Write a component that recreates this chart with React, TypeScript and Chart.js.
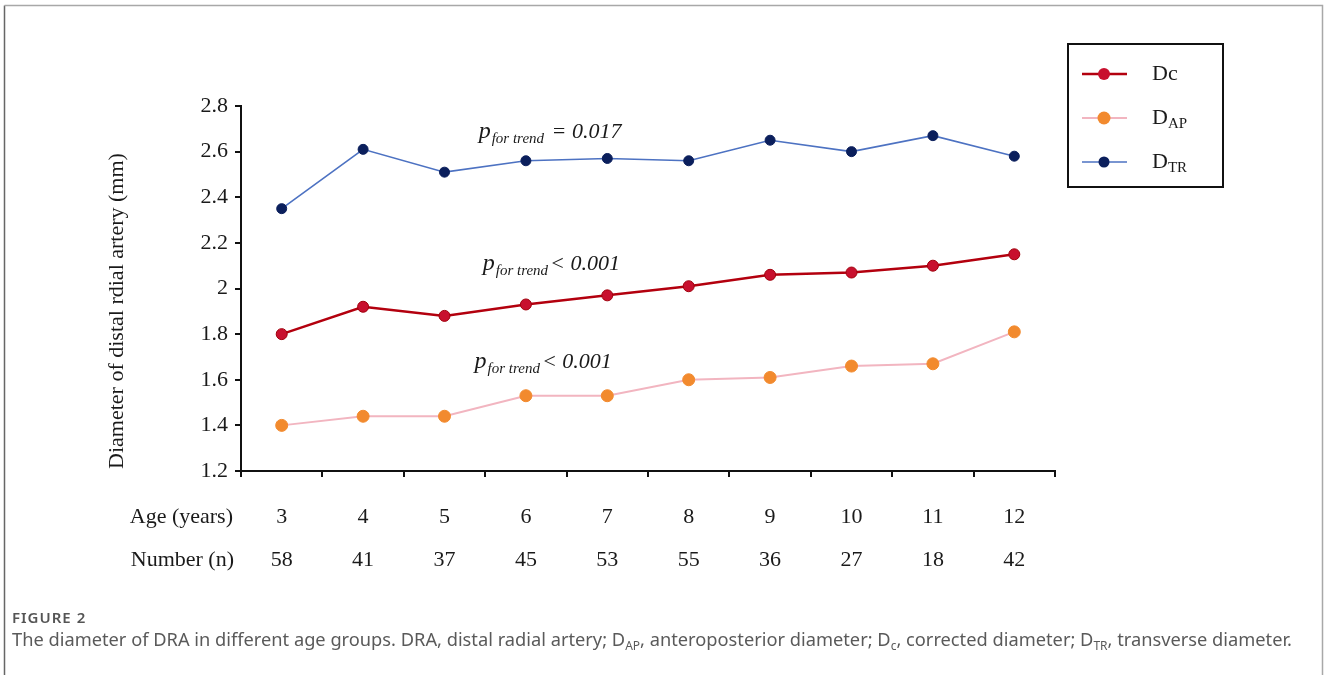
import React, { useEffect, useRef } from 'react';
import { Chart, registerables } from 'chart.js';

Chart.register(...registerables);

const W = 1328;
const H = 675;

// Age groups and sample sizes
const ages = ['3', '4', '5', '6', '7', '8', '9', '10', '11', '12'];
const counts = ['58', '41', '37', '45', '53', '55', '36', '27', '18', '42'];

// Mean diameters (mm)
const dcValues = [1.80, 1.92, 1.88, 1.93, 1.97, 2.01, 2.06, 2.07, 2.10, 2.15];
const dapValues = [1.40, 1.44, 1.44, 1.53, 1.53, 1.60, 1.61, 1.66, 1.67, 1.81];
const dtrValues = [2.35, 2.61, 2.51, 2.56, 2.57, 2.56, 2.65, 2.60, 2.67, 2.58];

// Y axis range
const yMin = 1.2;
const yMax = 2.8;
const yStep = 0.2;

// Trend test notes: text, anchored at a category index and a y value (baseline)
const trendNotes = [
  { rel: ' = 0.017', atIndex: 2.42, atValue: 2.66 },
  { rel: '< 0.001', atIndex: 2.47, atValue: 2.081 },
  { rel: '< 0.001', atIndex: 2.37, atValue: 1.651 },
];

// Legend entries: main letter + subscript
const legendEntries = [
  { main: 'Dc', sub: '' },
  { main: 'D', sub: 'AP' },
  { main: 'D', sub: 'TR' },
];

const SERIF = '"Liberation Serif", "Times New Roman", serif';
const SANS = '"Noto Sans", "Open Sans", sans-serif';
const INK = '#1a1a1a';

const series = [
  { label: 'Dc', data: dcValues, line: '#b3000e', point: '#c8102e', pointEdge: '#a0000c', width: 2.5, radius: 6 },
  { label: 'DAP', data: dapValues, line: '#f2b5c0', point: '#f28a2e', pointEdge: '#f28a2e', width: 2, radius: 6.5 },
  { label: 'DTR', data: dtrValues, line: '#4d72c2', point: '#0b1f5c', pointEdge: '#0b1f5c', width: 1.6, radius: 5.5 },
];

const captionRuns = [
  { t: 'The diameter of DRA in different age groups. DRA, distal radial artery; D', sub: false },
  { t: 'AP', sub: true },
  { t: ', anteroposterior diameter; D', sub: false },
  { t: 'c', sub: true },
  { t: ', corrected diameter; D', sub: false },
  { t: 'TR', sub: true },
  { t: ', transverse diameter.', sub: false },
];

const overlay = {
  id: 'overlay',
  afterDraw(chart: any) {
    const ctx: CanvasRenderingContext2D = chart.ctx;
    const xs = chart.scales.x;
    const ys = chart.scales.y;
    ctx.save();

    // figure frame
    ctx.lineWidth = 1.5;
    ctx.strokeStyle = '#666';
    ctx.beginPath();
    ctx.moveTo(4.5, H);
    ctx.lineTo(4.5, 5.5);
    ctx.stroke();
    ctx.strokeStyle = '#a8a8a8';
    ctx.beginPath();
    ctx.moveTo(4.5, 5.5);
    ctx.lineTo(1322.5, 5.5);
    ctx.lineTo(1322.5, H);
    ctx.stroke();

    // y axis title
    ctx.save();
    ctx.translate(117, 311);
    ctx.rotate(-Math.PI / 2);
    ctx.fillStyle = INK;
    ctx.font = `22px ${SERIF}`;
    ctx.textAlign = 'center';
    ctx.textBaseline = 'middle';
    ctx.fillText('Diameter of distal rdial artery (mm)', 0, 0);
    ctx.restore();

    // row headers for the category table
    ctx.fillStyle = INK;
    ctx.font = `22px ${SERIF}`;
    ctx.textAlign = 'right';
    ctx.textBaseline = 'middle';
    ctx.fillText('Age (years)', 233, 517);
    ctx.fillText('Number (n)', 234, 560);

    // trend notes
    ctx.textAlign = 'left';
    ctx.textBaseline = 'alphabetic';
    for (const note of trendNotes) {
      let px = xs.getPixelForValue(note.atIndex);
      const py = ys.getPixelForValue(note.atValue);
      ctx.font = `italic 24px ${SERIF}`;
      ctx.fillText('p', px, py);
      px += ctx.measureText('p').width + 1;
      ctx.font = `italic 15px ${SERIF}`;
      ctx.fillText('for trend', px, py + 5);
      px += ctx.measureText('for trend').width + 2;
      ctx.font = `italic 22px ${SERIF}`;
      ctx.fillText(note.rel, px, py);
    }

    // legend
    ctx.lineWidth = 2;
    ctx.strokeStyle = '#111';
    ctx.strokeRect(1068, 44, 155, 143);
    const rowsY = [74, 118, 162];
    legendEntries.forEach((entry, i) => {
      const s = series[i];
      const ly = rowsY[i];
      ctx.strokeStyle = s.line;
      ctx.lineWidth = s.width;
      ctx.beginPath();
      ctx.moveTo(1082, ly);
      ctx.lineTo(1127, ly);
      ctx.stroke();
      ctx.fillStyle = s.point;
      ctx.beginPath();
      ctx.arc(1104, ly, s.radius, 0, Math.PI * 2);
      ctx.fill();
      ctx.fillStyle = INK;
      ctx.font = `22px ${SERIF}`;
      ctx.textAlign = 'left';
      ctx.textBaseline = 'alphabetic';
      ctx.fillText(entry.main, 1152, ly + 6);
      if (entry.sub) {
        const mw = ctx.measureText(entry.main).width;
        ctx.font = `15px ${SERIF}`;
        ctx.fillText(entry.sub, 1152 + mw, ly + 10);
      }
    });

    // caption
    ctx.textAlign = 'left';
    ctx.textBaseline = 'alphabetic';
    ctx.fillStyle = '#555';
    ctx.font = `600 15px ${SANS}`;
    (ctx as any).letterSpacing = '1px';
    ctx.fillText('FIGURE 2', 12, 623);
    (ctx as any).letterSpacing = '0px';

    const mainSize = 18.25;
    const subSize = 12;
    let cx = 12;
    ctx.fillStyle = '#5a5a5a';
    for (const run of captionRuns) {
      ctx.font = `${run.sub ? subSize : mainSize}px ${SANS}`;
      ctx.fillText(run.t, cx, run.sub ? 650 : 646);
      cx += ctx.measureText(run.t).width;
    }

    ctx.restore();
  },
};

export default function App() {
  const ref = useRef<HTMLCanvasElement>(null);

  useEffect(() => {
    const canvas = ref.current;
    if (!canvas) return;
    Chart.defaults.color = INK;
    const chart = new Chart(canvas, {
      type: 'line',
      data: {
        labels: ages,
        datasets: series.map((s) => ({
          label: s.label,
          data: s.data,
          borderColor: s.line,
          borderWidth: s.width,
          backgroundColor: s.point,
          pointBackgroundColor: s.point,
          pointBorderColor: s.pointEdge,
          pointBorderWidth: 1,
          pointRadius: s.radius - 0.5,
          pointStyle: 'circle',
          tension: 0,
          fill: false,
        })),
      },
      options: {
        responsive: false,
        animation: false,
        devicePixelRatio: 1,
        layout: { padding: { top: 106, right: 273, bottom: 0, left: 0 } },
        plugins: {
          legend: { display: false },
          tooltip: { enabled: false },
          title: { display: false },
        },
        scales: {
          x: {
            type: 'category',
            offset: true,
            afterFit: (scale: any) => {
              scale.height = H - 471;
            },
            grid: {
              offset: true,
              drawOnChartArea: false,
              drawTicks: true,
              tickLength: 6,
              color: '#111',
              lineWidth: 2,
            },
            border: { display: true, color: '#111', width: 2 },
            ticks: {
              autoSkip: false,
              maxRotation: 0,
              padding: 18.5,
              color: INK,
              font: { family: SERIF, size: 22, lineHeight: '43px' },
              callback: (_v: any, i: number) => [ages[i], counts[i]],
            },
          },
          y: {
            type: 'linear',
            min: yMin,
            max: yMax,
            afterFit: (scale: any) => {
              scale.width = 241;
            },
            grid: {
              drawOnChartArea: false,
              drawTicks: true,
              tickLength: 6,
              color: '#111',
              lineWidth: 2,
            },
            border: { display: true, color: '#111', width: 2 },
            ticks: {
              stepSize: yStep,
              padding: 7,
              color: INK,
              font: { family: SERIF, size: 22 },
              callback: (v: any) => String(Number(Number(v).toFixed(1))),
            },
          },
        },
      },
      plugins: [overlay],
    });
    return () => chart.destroy();
  }, []);

  return (
    <div style={{ position: 'absolute', left: 0, top: 0, width: W, height: H, background: '#fff' }}>
      <canvas ref={ref} width={W} height={H} style={{ display: 'block', width: W, height: H }} />
    </div>
  );
}
